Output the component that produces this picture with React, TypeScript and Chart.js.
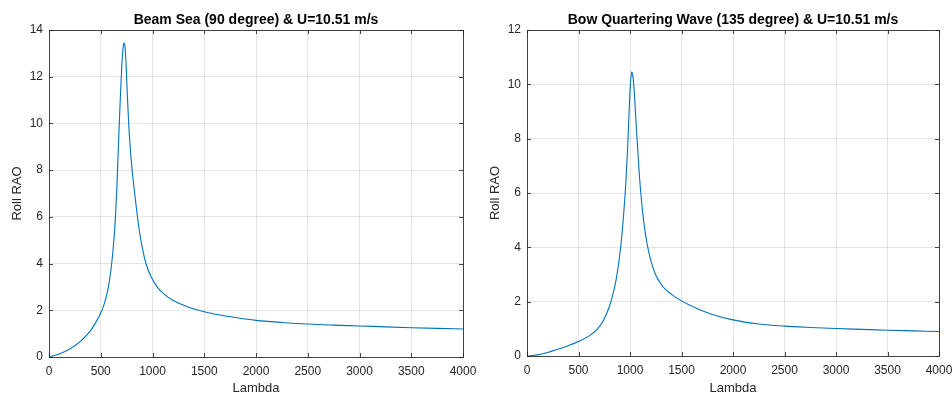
import React, { useEffect, useRef } from "react";
import { Chart, registerables } from "chart.js";

Chart.register(...registerables);

// ---- Data ----
const beamLambda = [0, 100, 200, 300, 400, 450, 500, 530, 560, 585, 605, 625, 642, 656, 668, 680, 692, 704, 715, 725, 735, 745, 757, 770, 785, 800, 820, 845, 870, 900, 940, 990, 1050, 1120, 1200, 1350, 1500, 1650, 1800, 2000, 2250, 2500, 2750, 3000, 3250, 3500, 3750, 4000];
const beamRAO = [0, 0.13, 0.34, 0.66, 1.12, 1.46, 1.88, 2.22, 2.7, 3.3, 3.98, 4.9, 6.0, 7.3, 8.7, 10.1, 11.4, 12.5, 13.2, 13.45, 13.25, 12.5, 11.2, 10.0, 8.95, 8.15, 7.3, 6.35, 5.5, 4.7, 3.95, 3.4, 2.97, 2.66, 2.42, 2.13, 1.94, 1.8, 1.69, 1.57, 1.48, 1.41, 1.365, 1.33, 1.29, 1.255, 1.225, 1.2];

const bowLambda = [0, 100, 200, 300, 400, 500, 600, 680, 740, 790, 830, 865, 895, 920, 942, 960, 975, 988, 1000, 1010, 1018, 1026, 1036, 1048, 1060, 1075, 1092, 1112, 1135, 1165, 1200, 1250, 1320, 1400, 1500, 1650, 1800, 2000, 2250, 2500, 2750, 3000, 3250, 3500, 3750, 4000];
const bowRAO = [0, 0.04, 0.13, 0.25, 0.38, 0.53, 0.73, 0.98, 1.3, 1.72, 2.2, 2.8, 3.55, 4.4, 5.4, 6.4, 7.5, 8.7, 9.75, 10.3, 10.45, 10.35, 10.0, 9.3, 8.5, 7.6, 6.6, 5.7, 4.9, 4.15, 3.55, 2.98, 2.55, 2.28, 2.03, 1.75, 1.53, 1.33, 1.18, 1.1, 1.05, 1.01, 0.98, 0.95, 0.925, 0.9];

const xMin = 0;
const xMax = 4000;
const xStep = 500;
const yStep = 2;
const beamYMax = 14;
const bowYMax = 12;

const beamTitle = "Beam Sea (90 degree) & U=10.51 m/s";
const bowTitle = "Bow Quartering Wave (135 degree) & U=10.51 m/s";
const xLabel = "Lambda";
const yLabel = "Roll RAO";

const FONT = "'Liberation Sans', Arial, Helvetica, sans-serif";
const W = 476;
const H = 394;

type Area = { left: number; right: number; top: number; bottom: number };

function RaoChart(props: {
  xs: number[];
  ys: number[];
  yMax: number;
  title: string;
  area: Area;
  yLabelX: number;
}) {
  const ref = useRef<HTMLCanvasElement | null>(null);
  useEffect(() => {
    const canvas = ref.current;
    if (!canvas) return;
    const { area, title, yLabelX } = props;

    const decor = {
      id: "matlabDecor",
      afterDraw(chart: any) {
        const ctx = chart.ctx as CanvasRenderingContext2D;
        const ca = chart.chartArea;
        const xs = chart.scales.x;
        const ys = chart.scales.y;
        ctx.save();
        ctx.strokeStyle = "rgba(38,38,38,0.85)";
        ctx.lineWidth = 1;
        const tl = 4;
        ctx.beginPath();
        xs.ticks.forEach((t: any) => {
          const px = Math.round(xs.getPixelForValue(t.value)) + 0.5;
          ctx.moveTo(px, ca.bottom);
          ctx.lineTo(px, ca.bottom - tl);
          ctx.moveTo(px, ca.top);
          ctx.lineTo(px, ca.top + tl);
        });
        ys.ticks.forEach((t: any) => {
          const py = Math.round(ys.getPixelForValue(t.value)) + 0.5;
          ctx.moveTo(ca.left, py);
          ctx.lineTo(ca.left + tl, py);
          ctx.moveTo(ca.right, py);
          ctx.lineTo(ca.right - tl, py);
        });
        ctx.stroke();
        ctx.strokeRect(
          Math.round(ca.left) + 0.5,
          Math.round(ca.top) + 0.5,
          Math.round(ca.right - ca.left),
          Math.round(ca.bottom - ca.top)
        );
        ctx.fillStyle = "#000000";
        ctx.font = `bold 14px ${FONT}`;
        ctx.textAlign = "center";
        ctx.textBaseline = "middle";
        ctx.fillText(title, (ca.left + ca.right) / 2, 20);
        ctx.fillStyle = "#262626";
        ctx.font = `13px ${FONT}`;
        ctx.fillText(xLabel, (ca.left + ca.right) / 2, 388);
        ctx.translate(yLabelX, (ca.top + ca.bottom) / 2);
        ctx.rotate(-Math.PI / 2);
        ctx.fillText(yLabel, 0, 0);
        ctx.restore();
      },
    };

    const chart = new Chart(canvas, {
      type: "line",
      data: {
        datasets: [
          {
            data: props.xs.map((x, i) => ({ x, y: props.ys[i] })),
            borderColor: "#0072BD",
            borderWidth: 1.1,
            pointRadius: 0,
            fill: false,
            cubicInterpolationMode: "monotone",
          },
        ],
      },
      options: {
        animation: false,
        responsive: false,
        devicePixelRatio: 1,
        layout: {
          padding: { left: 0, right: W - area.right, top: area.top, bottom: 0 },
        },
        plugins: {
          legend: { display: false },
          tooltip: { enabled: false },
          title: { display: false },
        },
        scales: {
          x: {
            type: "linear",
            min: xMin,
            max: xMax,
            ticks: {
              stepSize: xStep,
              color: "#262626",
              font: { family: FONT, size: 12 },
              padding: 7,
              maxRotation: 0,
              autoSkip: false,
              callback: (v: any) => String(v),
            },
            grid: { color: "rgba(0,0,0,0.10)", drawTicks: false, lineWidth: 1 },
            border: { display: false },
            afterFit: (s: any) => {
              s.height = H - area.bottom;
              s.paddingLeft = 0;
              s.paddingRight = 0;
            },
          },
          y: {
            type: "linear",
            min: 0,
            max: props.yMax,
            ticks: {
              stepSize: yStep,
              color: "#262626",
              font: { family: FONT, size: 12 },
              padding: 6,
              callback: (v: any) => String(v),
            },
            grid: { color: "rgba(0,0,0,0.10)", drawTicks: false, lineWidth: 1 },
            border: { display: false },
            afterFit: (s: any) => {
              s.width = area.left;
              s.paddingTop = 0;
              s.paddingBottom = 0;
            },
          },
        },
      },
      plugins: [decor],
    } as any);
    return () => chart.destroy();
  }, []);
  return <canvas ref={ref} width={W} height={H} style={{ width: W, height: H, display: "block" }} />;
}

export default function App() {
  return (
    <div
      style={{
        position: "fixed",
        left: 0,
        top: 0,
        width: 952,
        height: 394,
        background: "#ffffff",
        display: "flex",
      }}
    >
      <RaoChart
        xs={beamLambda}
        ys={beamRAO}
        yMax={beamYMax}
        title={beamTitle}
        area={{ left: 49, right: 463, top: 30, bottom: 357 }}
        yLabelX={17}
      />
      <RaoChart
        xs={bowLambda}
        ys={bowRAO}
        yMax={bowYMax}
        title={bowTitle}
        area={{ left: 51, right: 463, top: 30, bottom: 356 }}
        yLabelX={19}
      />
    </div>
  );
}
